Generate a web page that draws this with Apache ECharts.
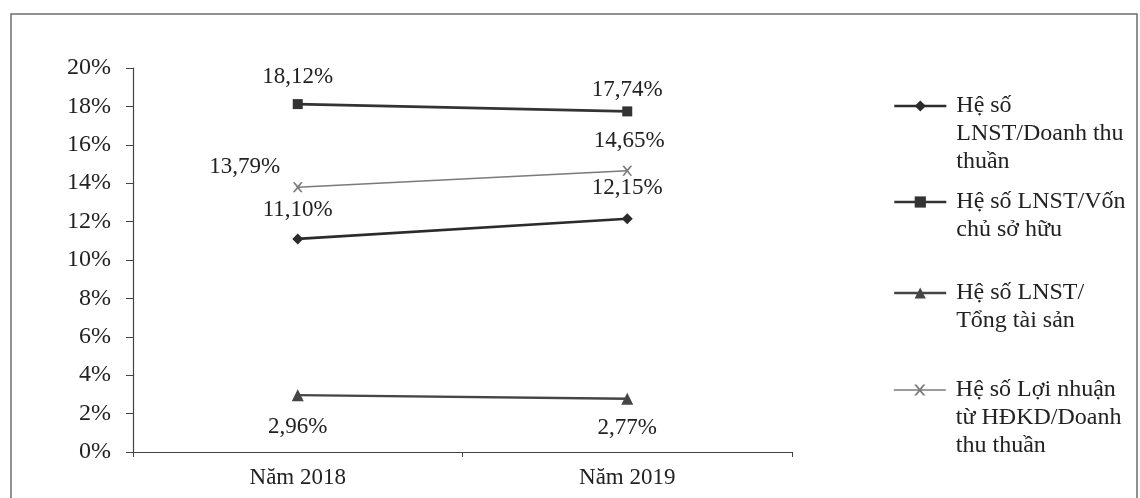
<!DOCTYPE html>
<html>
<head>
<meta charset="utf-8">
<title>Hệ số sinh lời</title>
<script src="https://cdn.jsdelivr.net/npm/echarts@6/dist/echarts.min.js"></script>
<style>
  html, body { margin: 0; padding: 0; background: #fff; }
  #chart { width: 1140px; height: 498px; }
</style>
</head>
<body>
<div id="chart"></div>
<script>
// Categories (years) and ratio values in percent
const categories = ['Năm 2018', 'Năm 2019'];
const seriesNames = [
  'Hệ số LNST/Doanh thu thuần',
  'Hệ số LNST/Vốn chủ sở hữu',
  'Hệ số LNST/Tổng tài sản',
  'Hệ số Lợi nhuận từ HĐKD/Doanh thu thuần'
];
const legendLines = [
  ['Hệ số', 'LNST/Doanh thu', 'thuần'],
  ['Hệ số LNST/Vốn', 'chủ sở hữu'],
  ['Hệ số LNST/', 'Tổng tài sản'],
  ['Hệ số Lợi nhuận', 'từ HĐKD/Doanh', 'thu thuần']
];
const lnstDoanhThu = [11.10, 12.15];
const lnstVonCSH = [18.12, 17.74];
const lnstTongTaiSan = [2.96, 2.77];
const lnHdkdDoanhThu = [13.79, 14.65];
const yMin = 0, yMax = 20, yStep = 2;

const FONT = '"Liberation Serif", "DejaVu Serif", serif';
const TEXT = '#222';

// Label offsets (px from each marker centre) for each series
const labelOffsets = [
  [[0, -29], [0, -31]],
  [[0, -27], [0, -21]],
  [[0, 32], [0, 29]],
  [[-53, -20], [2, -30]]
];
const styles = [
  { symbol: 'diamond', size: 11, color: '#2b2b2b', width: 2.6 },
  { symbol: 'rect', size: 10, color: '#333333', width: 2.6 },
  { symbol: 'triangle', size: 12, color: '#454545', width: 2.4 },
  { symbol: 'path://M0,0L2,0L5,3.6L8,0L10,0L6,5L10,10L8,10L5,6.4L2,10L0,10L4,5Z', size: 10, color: '#7a7a7a', width: 1.6 }
];
const values = [lnstDoanhThu, lnstVonCSH, lnstTongTaiSan, lnHdkdDoanhThu];

const fmt = v => v.toFixed(2).replace('.', ',') + '%';

const series = values.map((vals, s) => ({
  name: seriesNames[s],
  type: 'line',
  symbol: styles[s].symbol,
  symbolSize: styles[s].size,
  lineStyle: { color: styles[s].color, width: styles[s].width },
  itemStyle: { color: styles[s].color },
  data: vals.map((v, i) => ({
    value: v,
    label: { offset: labelOffsets[s][i] }
  })),
  label: {
    show: true,
    position: 'inside',
    color: TEXT,
    fontFamily: FONT,
    fontSize: 23,
    formatter: p => fmt(p.value)
  },
  emphasis: { disabled: true },
  animation: false
}));

// One legend block per series; blank lines before the text keep the
// icon level with the first text line
const legendCentres = [106, 202, 293, 390];
const LINE_H = 28;
const legends = seriesNames.map((name, s) => {
  const lines = legendLines[s];
  const n = lines.length;
  const blank = new Array(n - 1).fill('');
  return {
    data: [name],
    left: 893,
    top: legendCentres[s] - (2 * n - 1) * LINE_H / 2,
    padding: 0,
    orient: 'vertical',
    itemWidth: 52,
    itemHeight: 14,
    selectedMode: false,
    lineStyle: { width: styles[s].width },
    formatter: () => blank.concat(lines).join('\n'),
    textStyle: {
      color: TEXT,
      fontFamily: FONT,
      fontSize: 24,
      lineHeight: LINE_H,
      padding: [0, 0, 0, 5]
    }
  };
});

const chart = echarts.init(document.getElementById('chart'), null, { renderer: 'canvas' });
chart.setOption({
  backgroundColor: '#fff',
  animation: false,
  graphic: [{
    type: 'rect',
    shape: { x: 11, y: 14, width: 1126, height: 500 },
    style: { fill: 'none', stroke: '#6e6e6e', lineWidth: 1.5 },
    silent: true
  }],
  legend: legends,
  grid: { left: 133, right: 348, top: 68, bottom: 46, containLabel: false },
  xAxis: {
    type: 'category',
    data: categories,
    boundaryGap: true,
    axisLine: { lineStyle: { color: '#444', width: 1.2 } },
    axisTick: { show: true, length: 5, lineStyle: { color: '#444' } },
    axisLabel: { color: TEXT, fontFamily: FONT, fontSize: 23, margin: 14 },
    splitLine: { show: false }
  },
  yAxis: {
    type: 'value',
    min: yMin,
    max: yMax,
    interval: yStep,
    axisLine: { show: true, lineStyle: { color: '#444', width: 1.2 } },
    axisTick: { show: true, length: 7, lineStyle: { color: '#444' } },
    axisLabel: {
      color: TEXT,
      fontFamily: FONT,
      fontSize: 24,
      margin: 22,
      formatter: v => v + '%'
    },
    splitLine: { show: false }
  },
  tooltip: { show: false },
  series: series
});
</script>
</body>
</html>
